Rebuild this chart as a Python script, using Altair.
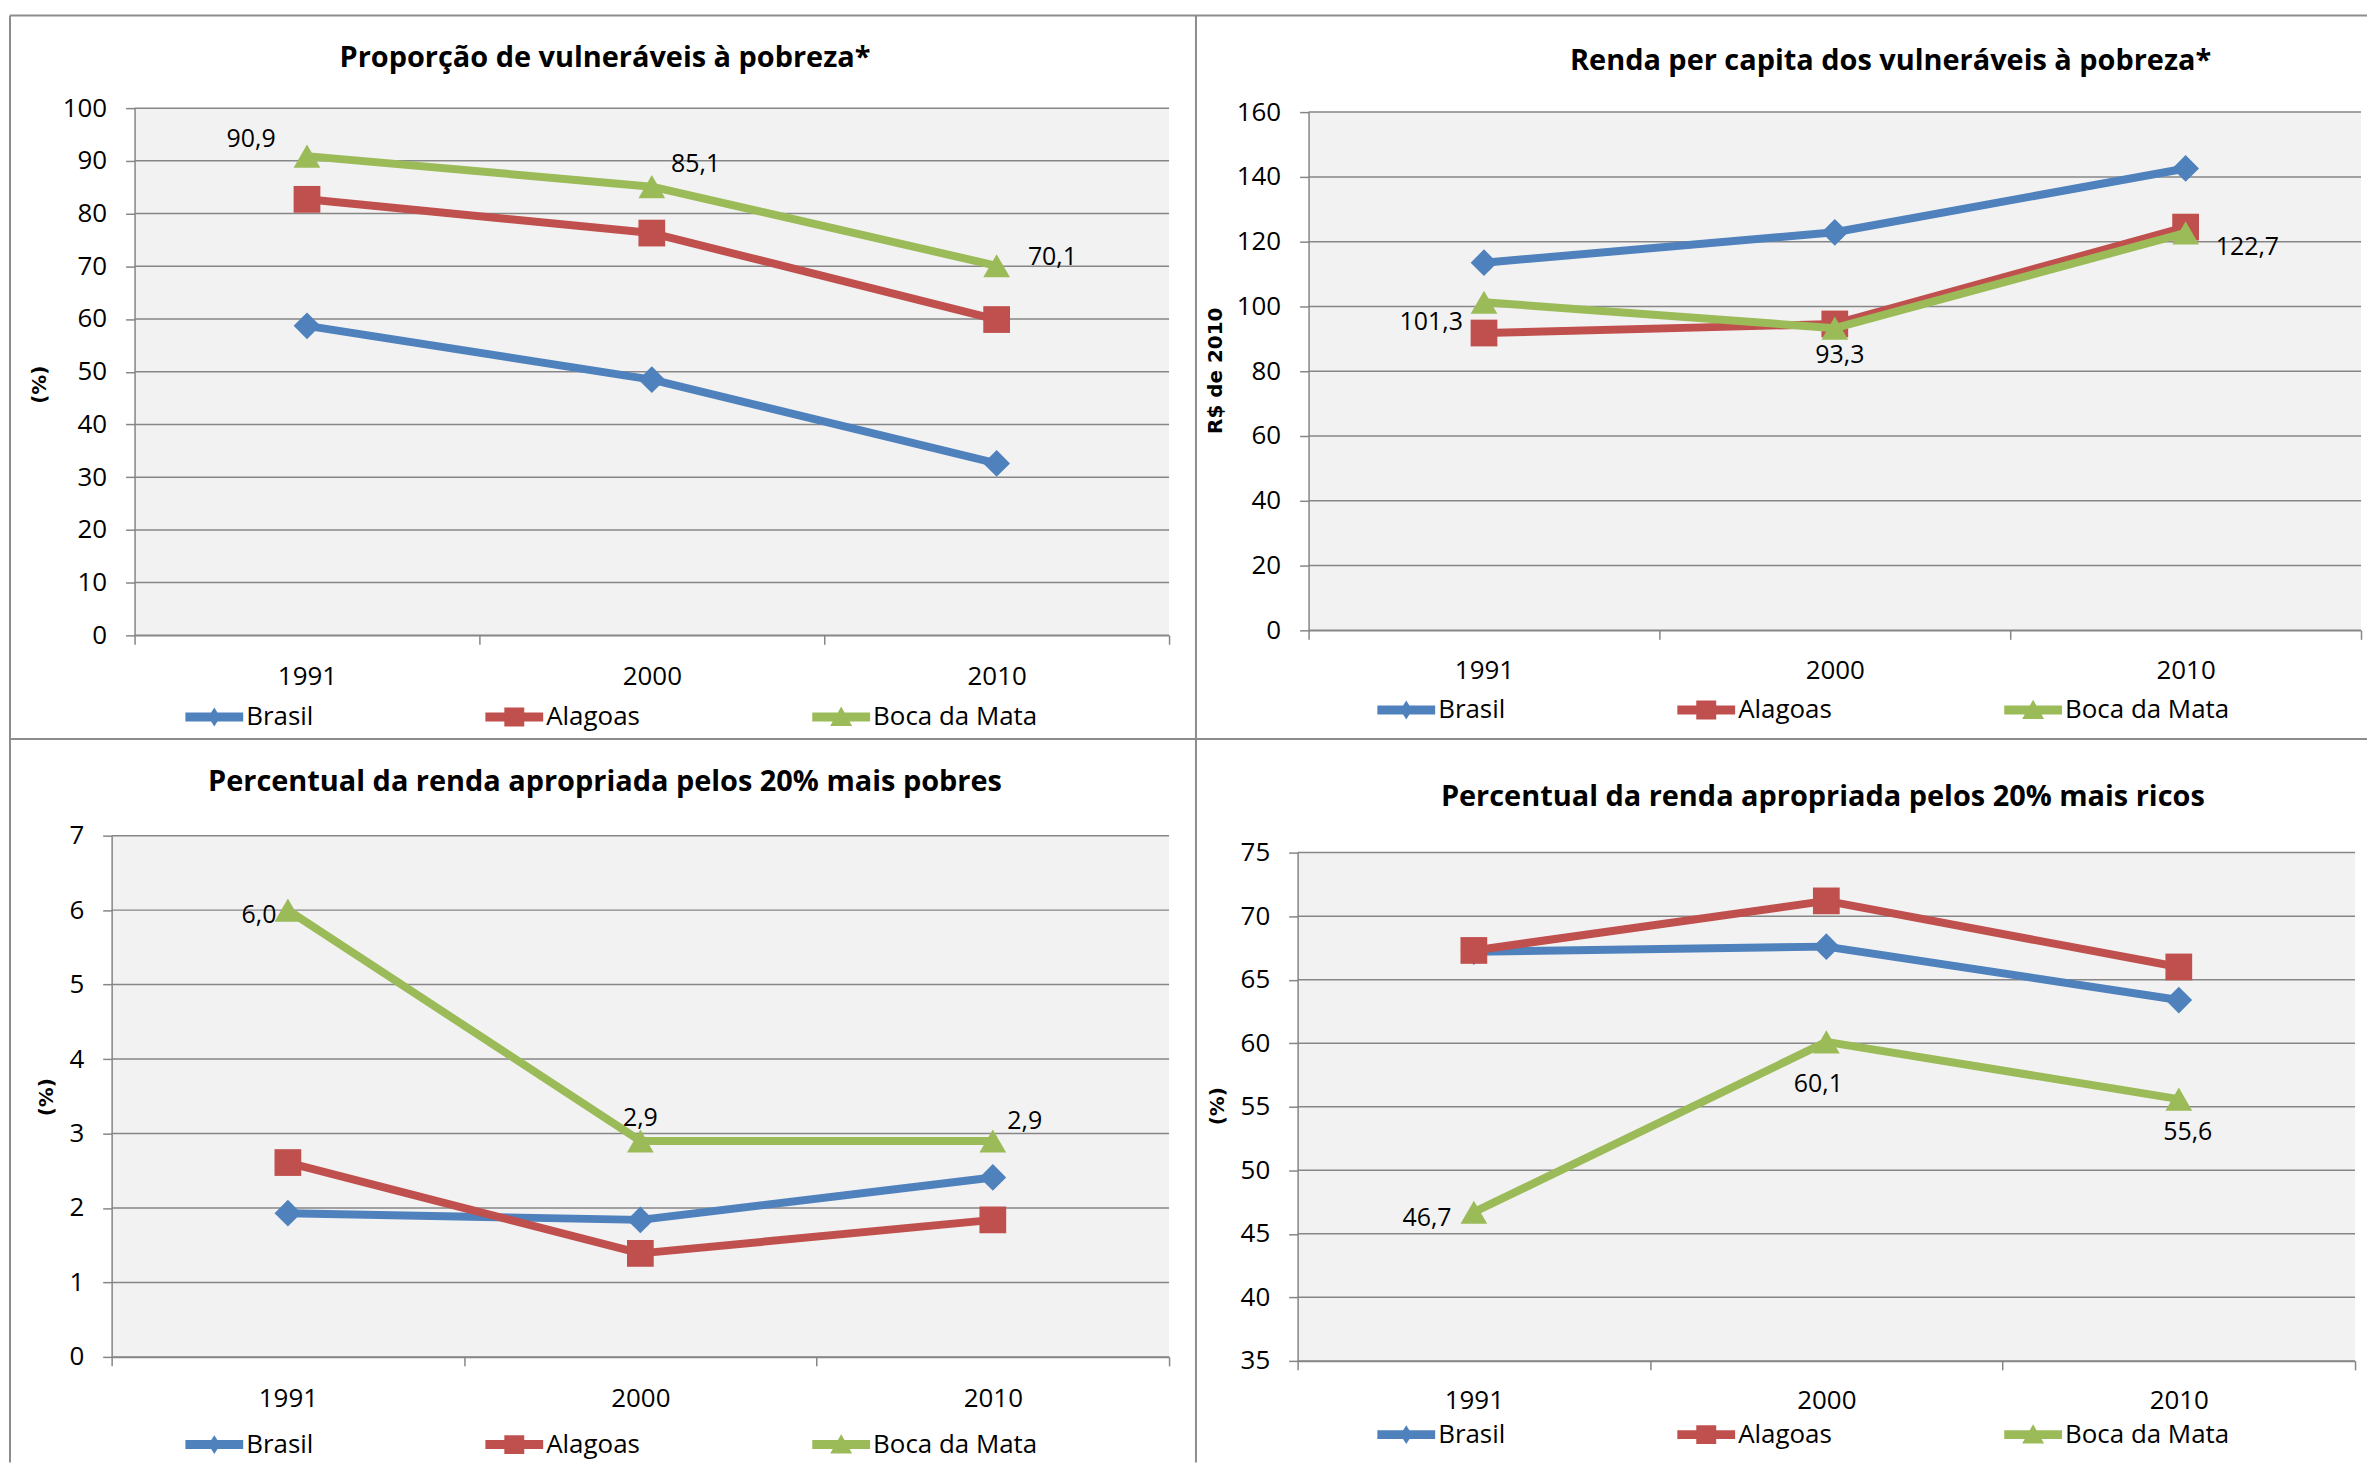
import altair as alt
import pandas as pd

# ---------------- data ----------------
years = ["1991", "2000", "2010"]
series = ["Brasil", "Alagoas", "Boca da Mata"]
colors = ["#4F81BD", "#C0504D", "#9BBB59"]
marker_shapes = ["diamond", "square", "triangle-up"]

# Proporção de vulneráveis à pobreza (%)
p1_brasil = [58.7, 48.5, 32.6]
p1_alagoas = [82.7, 76.3, 59.9]
p1_boca = [90.9, 85.1, 70.1]

# Renda per capita dos vulneráveis à pobreza (R$ de 2010)
p2_brasil = [113.5, 122.9, 142.6]
p2_alagoas = [91.8, 94.6, 124.5]
p2_boca = [101.3, 93.3, 122.7]

# Percentual da renda apropriada pelos 20% mais pobres (%)
p3_brasil = [1.93, 1.84, 2.41]
p3_alagoas = [2.61, 1.39, 1.84]
p3_boca = [6.0, 2.9, 2.9]

# Percentual da renda apropriada pelos 20% mais ricos (%)
p4_brasil = [67.2, 67.6, 63.4]
p4_alagoas = [67.3, 71.2, 66.0]
p4_boca = [46.7, 60.1, 55.6]

titles = [
    "Proporção de vulneráveis à pobreza*",
    "Renda per capita dos vulneráveis à pobreza*",
    "Percentual da renda apropriada pelos 20% mais pobres",
    "Percentual da renda apropriada pelos 20% mais ricos",
]
y_titles = ["(%)", "R$ de 2010", "(%)", "(%)"]
y_ticks = [
    [0, 10, 20, 30, 40, 50, 60, 70, 80, 90, 100],
    [0, 20, 40, 60, 80, 100, 120, 140, 160],
    [0, 1, 2, 3, 4, 5, 6, 7],
    [35, 40, 45, 50, 55, 60, 65, 70, 75],
]
panel_values = [
    (p1_brasil, p1_alagoas, p1_boca),
    (p2_brasil, p2_alagoas, p2_boca),
    (p3_brasil, p3_alagoas, p3_boca),
    (p4_brasil, p4_alagoas, p4_boca),
]

# ---------------- style / layout ----------------
W, H = 2367, 1457
FONT = "Open Sans"
GRID = "#868686"
BORDER = "#8C8C8C"
BG = "#F2F2F2"
LEGEND_PATHS = [
    "M-2.9,-0.45 L2.9,-0.45 L2.9,0.45 L-2.9,0.45 Z M0,-0.95 L0.6,0 L0,0.95 L-0.6,0 Z",
    "M-2.9,-0.45 L2.9,-0.45 L2.9,0.45 L-2.9,0.45 Z M-1,-0.95 L1,-0.95 L1,0.95 L-1,0.95 Z",
    "M-2.9,-0.45 L2.9,-0.45 L2.9,0.45 L-2.9,0.45 Z M0,-1.05 L1.1,0.9 L-1.1,0.9 Z",
]

# pixel layout of each panel (plot area, title, axis title, legend, label offsets)
layouts = [
    dict(px=(127, 1165), py=(98, 627), title=(599, 48), ytitle=(-95, 375), xlab_pad=32,
         leg=(194, 696), lab=[(-56, -17), (44, -23), (56, -9)]),
    dict(px=(1305, 2361), py=(102, 622), title=(1889, 51), ytitle=(-93, 361), xlab_pad=31,
         leg=(1390, 689), lab=[(-53, 20), (5, 27), (62, 14)]),
    dict(px=(104, 1165), py=(828, 1351), title=(599, 774), ytitle=(-65, 1090), xlab_pad=33,
         leg=(194, 1426), lab=[(-29, 5), (0, -23), (32, -20)]),
    dict(px=(1294, 2355), py=(845, 1355), title=(1821, 789), ytitle=(-80, 1099), xlab_pad=31,
         leg=(1390, 1416), lab=[(-47, 6), (-8, 42), (9, 33)]),
]
frame_h = [(2, W, 5), (2, W, 731)]
frame_v = [(2, 5, H), (1192, 5, H)]


def fmt(v):
    return f"{v:.1f}".replace(".", ",")


def build_df(vals):
    rows = []
    for s, arr in zip(series, vals):
        for y, v in zip(years, arr):
            rows.append({"Ano": y, "Serie": s, "Valor": v, "Rotulo": fmt(v)})
    return pd.DataFrame(rows)


one = pd.DataFrame({"k": [0]})


def panel(i):
    L = layouts[i]
    df = build_df(panel_values[i])
    ticks = y_ticks[i]
    px0, px1 = L["px"]
    py0, py1 = L["py"]

    x_enc = alt.X(
        "Ano:N",
        bandPosition=0.5,
        scale=alt.Scale(type="band", domain=years, range=[px0, px1], paddingInner=0, paddingOuter=0),
        axis=alt.Axis(
            orient="bottom", offset=py1 - H, zindex=1,
            title=None, labelAngle=0, tickBand="extent", tickSize=9,
            tickColor=GRID, tickWidth=1.5, domainColor=GRID, domainWidth=1.5,
            labelFont=FONT, labelFontSize=26, labelColor="black",
            labelBaseline="middle", labelPadding=L["xlab_pad"], grid=False,
        ),
    )
    y_enc = alt.Y(
        "Valor:Q",
        scale=alt.Scale(domain=[ticks[0], ticks[-1]], range=[py1, py0], nice=False, zero=False),
        axis=alt.Axis(
            orient="left", offset=-px0, zindex=1,
            values=ticks, grid=False,
            tickSize=9, tickColor=GRID, tickWidth=1.5,
            domainColor=GRID, domainWidth=1.5,
            labelFont=FONT, labelFontSize=26, labelColor="black", labelPadding=19,
            title=y_titles[i], titleFont="DejaVu Sans", titleFontSize=20,
            titleFontWeight="bold", titleColor="black", titleAngle=-90,
            titleX=L["ytitle"][0], titleY=L["ytitle"][1], titleAlign="center",
            titleBaseline="middle",
        ),
    )
    color_scale = alt.Scale(domain=series, range=colors)

    layers = []
    # plot background
    layers.append(alt.Chart(one).mark_rect(color=BG).encode(
        x=alt.value(px0), x2=alt.value(px1), y=alt.value(py0), y2=alt.value(py1)))
    # horizontal gridlines at the tick values
    grid_df = pd.DataFrame({"Valor": ticks})
    layers.append(alt.Chart(grid_df).mark_rule(color=GRID, strokeWidth=1.5).encode(
        y=y_enc, x=alt.value(px0), x2=alt.value(px1)))

    base = alt.Chart(df)
    for s, shp in zip(series, marker_shapes):
        sub = base.transform_filter(alt.datum.Serie == s)
        layers.append(sub.mark_line(strokeWidth=8, strokeJoin="round").encode(
            x=x_enc, y=y_enc, color=alt.Color("Serie:N", scale=color_scale, legend=None)))
        layers.append(sub.mark_point(shape=shp, filled=True, size=720, opacity=1, strokeWidth=0).encode(
            x=x_enc, y=y_enc, color=alt.Color("Serie:N", scale=color_scale, legend=None)))

    leg = alt.Legend(
        orient="none", legendX=L["leg"][0], legendY=L["leg"][1],
        direction="horizontal", columns=3, title=None,
        labelFont=FONT, labelFontSize=26, labelColor="black", labelLimit=400,
        symbolSize=400, labelOffset=19, columnPadding=172, padding=0,
        symbolStrokeWidth=0, symbolOpacity=1,
    )
    layers.append(base.transform_filter("false").mark_point(filled=True, size=400, opacity=1).encode(
        x=x_enc, y=y_enc,
        color=alt.Color("Serie:N", scale=color_scale, legend=leg),
        shape=alt.Shape("Serie:N", scale=alt.Scale(domain=series, range=LEGEND_PATHS), legend=leg),
    ))

    for y, (dx, dy) in zip(years, L["lab"]):
        layers.append(
            base.transform_filter((alt.datum.Serie == series[2]) & (alt.datum.Ano == y))
            .mark_text(font=FONT, fontSize=25, color="black", dx=dx, dy=dy,
                       align="center", baseline="middle")
            .encode(x=x_enc, y=y_enc, text="Rotulo:N")
        )

    layers.append(alt.Chart(one).mark_text(
        font=FONT, fontSize=29, fontWeight="bold", color="black",
        align="center", baseline="middle").encode(
        x=alt.value(L["title"][0]), y=alt.value(L["title"][1]), text=alt.value(titles[i])))

    return alt.layer(*layers).resolve_scale(color="independent", shape="independent").resolve_legend(
        color="independent", shape="independent")


frame_layers = []
for (x1, x2, yy) in frame_h:
    frame_layers.append(alt.Chart(one).mark_rule(color=BORDER, strokeWidth=2).encode(
        x=alt.value(x1), x2=alt.value(x2), y=alt.value(yy)))
for (xx, y1, y2) in frame_v:
    frame_layers.append(alt.Chart(one).mark_rule(color=BORDER, strokeWidth=2).encode(
        x=alt.value(xx), y=alt.value(y1), y2=alt.value(y2)))

chart = alt.layer(
    panel(0), panel(1), panel(2), panel(3), *frame_layers
).resolve_scale(
    x="independent", y="independent", color="independent", shape="independent"
).resolve_axis(
    x="independent", y="independent"
).resolve_legend(
    color="independent", shape="independent"
).properties(
    width=W, height=H,
    autosize=alt.AutoSizeParams(type="none"),
    padding=0,
    background="white",
).configure_view(stroke=None)

chart.save("out.html", embed_options={"renderer": "svg", "actions": False})
